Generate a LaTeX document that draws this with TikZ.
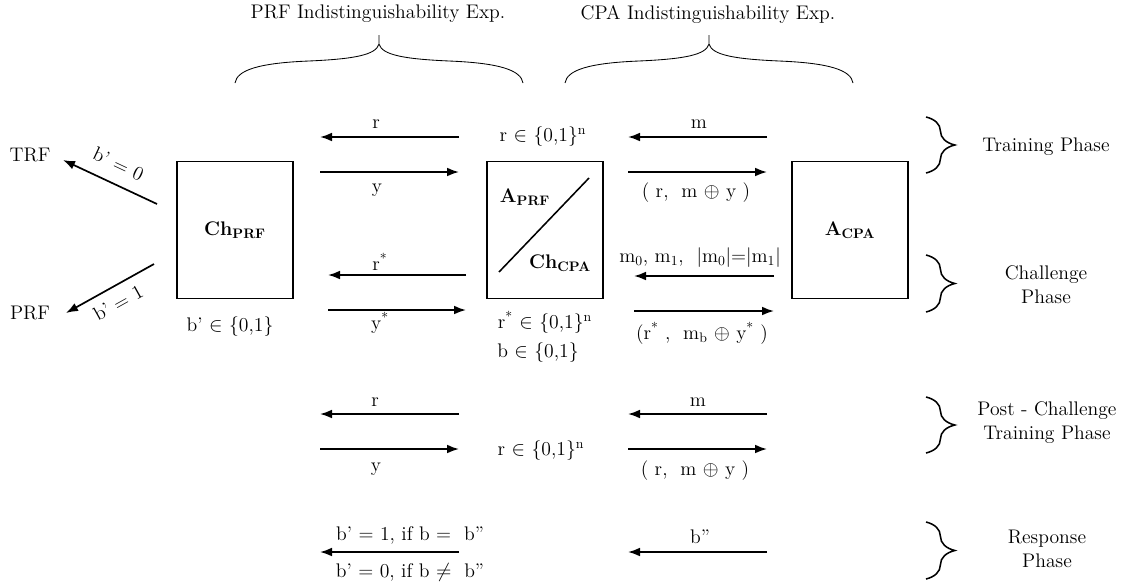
\documentclass[tikz,border=0pt]{standalone}
\usepackage{fontspec}
\usepackage{tikz}
\usetikzlibrary{arrows.meta, decorations.pathreplacing}

\begin{document}
\begin{tikzpicture}[
    x=0.025cm, y=-0.025cm,
    font=\fontsize{14}{17}\selectfont,
    party/.style={draw, line width=1.2pt, minimum width=2.9cm,
                  minimum height=3.42cm, inner sep=0pt},
    msg/.style={line width=1.2pt, -{Latex[length=3mm, width=2.2mm]}},
    lbl/.style={inner sep=1pt},
    expbrace/.style={line width=0.6pt},
    phbrace/.style={decorate, decoration={brace, amplitude=0.72cm}, line width=1.1pt},
    phase/.style={align=center},
  ]
  \useasboundingbox (0,0) rectangle (1135,586);

  % experiment headers
  \node[lbl] (prfexp) at (378,14) {PRF Indistinguishability Exp.};
  \node[lbl] (cpaexp) at (708,14) {CPA Indistinguishability Exp.};
  \foreach \c in {379,709}
    \draw[expbrace] ({\c-144},83) .. controls ({\c-142},70) and ({\c-120},63) .. ({\c-70},61)
      .. controls ({\c-25},59) and ({\c-3},55) .. (\c,44)
      .. controls ({\c+3},55) and ({\c+25},59) .. ({\c+70},61)
      .. controls ({\c+120},63) and ({\c+142},70) .. ({\c+144},83)
      (\c,44) -- (\c,35);

  % the three parties
  \node[party] (chprf) at (235,230) {\textbf{Ch\textsubscript{PRF}}};
  \node[party] (mid) at (545,230) {};
  \node[party] (acpa) at (850,230) {\textbf{A\textsubscript{CPA}}};
  \draw[line width=1.1pt] (499,272) -- (589,178);
  \node[lbl] (aprf) at (525,197) {\textbf{A\textsubscript{PRF}}};
  \node[lbl] (chcpa) at (560,263) {\textbf{Ch\textsubscript{CPA}}};

  % output of Ch_PRF
  \node[lbl] (trf) at (30,155) {TRF};
  \node[lbl] (prf) at (30,313) {PRF};
  \coordinate (out0) at (157,204); \coordinate (trftip) at (63,160);
  \coordinate (out1) at (154,264); \coordinate (prftip) at (66,313);
  \draw[msg] (out0) -- node[sloped, above=5pt] (bzero) {b' = 0} (trftip);
  \draw[msg] (out1) -- node[sloped, below=3pt] (bone) {b' = 1} (prftip);
  \node[lbl] (bin) at (230,327) {b' $\in$ \{0,1\}};

  % training phase
  \coordinate (trPw1) at (320,137); \coordinate (trPe1) at (459,137);
  \coordinate (trPw2) at (320,172); \coordinate (trPe2) at (459,172);
  \coordinate (trCw1) at (628,137); \coordinate (trCe1) at (767,137);
  \coordinate (trCw2) at (628,172); \coordinate (trCe2) at (767,172);
  \draw[msg] (trPe1) -- (trPw1);
  \draw[msg] (trPw2) -- (trPe2);
  \draw[msg] (trCe1) -- (trCw1);
  \draw[msg] (trCw2) -- (trCe2);
  \node[lbl] (trr) at (376,124) {r};
  \node[lbl] (try) at (377,190) {y};
  \node[lbl] (trrin) at (543,137) {r $\in$ \{0,1\}\textsuperscript{n}};
  \node[lbl] (trm) at (699,124) {m};
  \node[lbl] (trc) at (696,193) {( r,\ \ m $\oplus$ y )};

  % challenge phase
  \coordinate (chPw1) at (328,275); \coordinate (chPe1) at (466,275);
  \coordinate (chPw2) at (328,310); \coordinate (chPe2) at (466,310);
  \coordinate (chCw1) at (634,276); \coordinate (chCe1) at (774,276);
  \coordinate (chCw2) at (634,311); \coordinate (chCe2) at (774,311);
  \draw[msg] (chPe1) -- (chPw1);
  \draw[msg] (chPw2) -- (chPe2);
  \draw[msg] (chCe1) -- (chCw1);
  \draw[msg] (chCw2) -- (chCe2);
  \node[lbl] (chr) at (380,262) {r\textsuperscript{*}};
  \node[lbl] (chy) at (380,323) {y\textsuperscript{*}};
  \node[lbl] (chrin) at (545,322) {r\textsuperscript{*} $\in$ \{0,1\}\textsuperscript{n}};
  \node[lbl] (chbin) at (538,353) {b $\in$ \{0,1\}};
  \node[lbl] (chm) at (700,258)
    {m\textsubscript{0}, m\textsubscript{1},\ \ |m\textsubscript{0}|=|m\textsubscript{1}|};
  \node[lbl] (chc) at (702,333)
    {(r\textsuperscript{*} ,\ \ m\textsubscript{b} $\oplus$ y\textsuperscript{*} )};

  % post-challenge training phase
  \coordinate (pcPw1) at (320,414); \coordinate (pcPe1) at (459,414);
  \coordinate (pcPw2) at (320,449); \coordinate (pcPe2) at (459,449);
  \coordinate (pcCw1) at (628,414); \coordinate (pcCe1) at (767,414);
  \coordinate (pcCw2) at (628,449); \coordinate (pcCe2) at (767,449);
  \draw[msg] (pcPe1) -- (pcPw1);
  \draw[msg] (pcPw2) -- (pcPe2);
  \draw[msg] (pcCe1) -- (pcCw1);
  \draw[msg] (pcCw2) -- (pcCe2);
  \node[lbl] (pcr) at (375,402) {r};
  \node[lbl] (pcy) at (376,469) {y};
  \node[lbl] (pcrin) at (541,451) {r $\in$ \{0,1\}\textsuperscript{n}};
  \node[lbl] (pcm) at (698,402) {m};
  \node[lbl] (pcc) at (695,471) {( r,\ \ m $\oplus$ y )};

  % response phase
  \coordinate (rsPw) at (320,552); \coordinate (rsPe) at (459,552);
  \coordinate (rsCw) at (628,552); \coordinate (rsCe) at (767,552);
  \draw[msg] (rsPe) -- (rsPw);
  \draw[msg] (rsCe) -- (rsCw);
  \node[lbl] (rsone) at (410,535) {b' = 1, if b =\ \ b''};
  \node[lbl] (rszero) at (410,572) {b' = 0, if b $\neq$\ \ b''};
  \node[lbl] (rsb) at (700,537) {b''};

  % phases on the right
  \foreach \ya/\yb in {117/173, 255/312, 397/453, 522/579}
    \draw[phbrace] (926,\ya) -- (926,\yb);
  \node[phase] (trph) at (1046,147) {Training Phase};
  \node[phase] (chph) at (1046,285) {Challenge\\Phase};
  \node[phase] (pcph) at (1047,423) {Post - Challenge\\Training Phase};
  \node[phase] (rsph) at (1047,549) {Response\\Phase};
\end{tikzpicture}
\end{document}
